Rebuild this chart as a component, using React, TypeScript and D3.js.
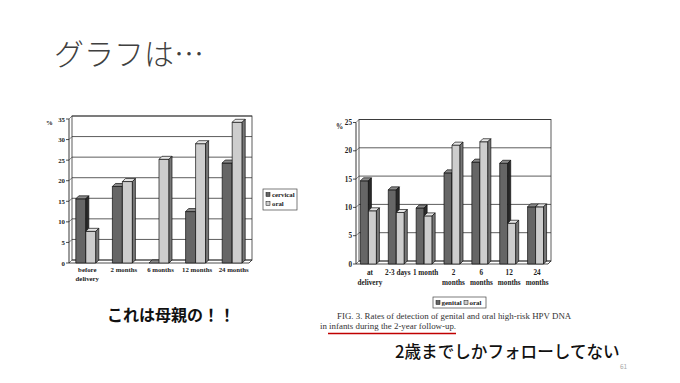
import React from "react";
import * as d3 from "d3";

const leftCategories = [["before", "delivery"], ["2 months"], ["6 months"], ["12 months"], ["24 months"]];
const leftSeries = ["cervical", "oral"];
const leftCervical = [15.6, 18.6, 0, 12.5, 24.3];
const leftOral = [7.7, 19.8, 25.2, 29, 34.2];
const leftTicks = [0, 5, 10, 15, 20, 25, 30, 35];

const rightCategories = [["at", "delivery"], ["2-3 days"], ["1 month"], ["2", "months"], ["6", "months"], ["12", "months"], ["24", "months"]];
const rightSeries = ["genital", "oral"];
const rightGenital = [14.7, 13.1, 9.9, 16.1, 18.0, 17.8, 10.1];
const rightOral = [9.4, 9.1, 8.5, 21.0, 21.6, 7.2, 10.1];
const rightTicks = [0, 5, 10, 15, 20, 25];

const DARK = { front: "#666666", top: "#8a8a8a", side: "#2a2a2a" };
const LIGHT = { front: "#cdcdcd", top: "#e6e6e6", side: "#777777" };

type ChartProps = {
  x0: number; x1: number; y0: number; yTop: number; max: number;
  cats: string[][]; a: number[]; b: number[]; ticks: number[];
  bw: number; d: number; fs: number; labelY: number; lineH: number; pctDx: number;
};

function Bar3D({ x, w, yv, y0, d, c }: { x: number; w: number; yv: number; y0: number; d: number; c: any }) {
  const h = y0 - yv;
  return (
    <g stroke="#111" strokeWidth={0.7} strokeLinejoin="round">
      {h > 0.5 && <rect x={x} y={yv} width={w} height={h} fill={c.front} />}
      <path d={`M${x},${yv} L${x + d},${yv - d} L${x + w + d},${yv - d} L${x + w},${yv} Z`} fill={c.top} />
      <path d={`M${x + w},${yv} L${x + w + d},${yv - d} L${x + w + d},${y0 - d} L${x + w},${y0} Z`} fill={c.side} />
    </g>
  );
}

function Chart3D(p: ChartProps) {
  const y = d3.scaleLinear().domain([0, p.max]).range([p.y0, p.yTop]);
  const xb = d3.scaleBand<number>().domain(d3.range(p.cats.length)).range([p.x0, p.x1]);
  const gw = 2 * p.bw + p.d;
  const font = "'Liberation Serif', 'DejaVu Serif', serif";
  return (
    <g>
      <rect x={p.x0 + p.d} y={y(p.max) - p.d} width={p.x1 - p.x0 - p.d} height={p.y0 - y(p.max)} fill="#fff" stroke="#333" strokeWidth={0.8} />
      {p.ticks.map((t) => (
        <g key={t}>
          <line x1={p.x0 + p.d} x2={p.x1} y1={y(t) - p.d} y2={y(t) - p.d} stroke="#333" strokeWidth={0.8} />
          <line x1={p.x0} x2={p.x0 + p.d} y1={y(t)} y2={y(t) - p.d} stroke="#333" strokeWidth={0.6} />
          <line x1={p.x0 - 3} x2={p.x0} y1={y(t)} y2={y(t)} stroke="#222" strokeWidth={0.8} />
          <text x={p.x0 - 4} y={y(t) + 2.5} textAnchor="end" fontSize={p.fs} fontFamily={font} fontWeight="bold" fill="#222">{t}</text>
        </g>
      ))}
      <path d={`M${p.x0},${p.y0} L${p.x1 - p.d},${p.y0} L${p.x1},${p.y0 - p.d}`} fill="none" stroke="#222" strokeWidth={0.8} />
      <line x1={p.x0} x2={p.x0} y1={p.y0} y2={y(p.max)} stroke="#222" strokeWidth={0.9} />
      <text x={p.x0 - p.pctDx} y={y(p.max) + 6} fontSize={p.fs} fontFamily={font} fontWeight="bold" fill="#222">%</text>
      {p.cats.map((lines, i) => {
        const cx = (xb(i) as number) + xb.bandwidth() / 2;
        const gx = cx - gw / 2;
        return (
          <g key={i}>
            <Bar3D x={gx} w={p.bw} yv={y(p.a[i])} y0={p.y0} d={p.d} c={DARK} />
            <Bar3D x={gx + p.bw} w={p.bw} yv={y(p.b[i])} y0={p.y0} d={p.d} c={LIGHT} />
            {lines.map((l, j) => (
              <text key={j} x={cx} y={p.labelY + j * p.lineH} textAnchor="middle" fontSize={p.fs} fontFamily={font} fontWeight="bold" fill="#222">{l}</text>
            ))}
          </g>
        );
      })}
    </g>
  );
}

export default function App() {
  const serif = "'Liberation Serif', 'DejaVu Serif', serif";
  const jp = "'Noto Sans CJK JP', 'Noto Sans', sans-serif";
  return (
    <svg width={680} height={383} style={{ position: "absolute", left: 0, top: 0 }} xmlns="http://www.w3.org/2000/svg">
      <rect width={680} height={383} fill="#fff" />
      <text x={54} y={65} fontSize={30} fontFamily={jp} fontWeight={300} fill="#404040">グラフは…</text>

      <Chart3D x0={69} x1={252} y0={263} yTop={119} max={35} cats={leftCategories} a={leftCervical} b={leftOral}
        ticks={leftTicks} bw={10} d={3} fs={6.8} labelY={272} lineH={9} pctDx={23} />
      <g fontFamily={serif} fontSize={6.8} fontWeight="bold" fill="#222">
        <rect x={263} y={189} width={34} height={21} fill="#fff" stroke="#444" strokeWidth={0.7} />
        <rect x={266} y={192.5} width={4} height={4} fill={DARK.front} stroke="#111" strokeWidth={0.5} />
        <text x={272} y={197}>{leftSeries[0]}</text>
        <rect x={266} y={201.5} width={4} height={4} fill={LIGHT.front} stroke="#111" strokeWidth={0.5} />
        <text x={272} y={206}>{leftSeries[1]}</text>
      </g>

      <Chart3D x0={356} x1={551} y0={264} yTop={122.5} max={25} cats={rightCategories} a={rightGenital} b={rightOral}
        ticks={rightTicks} bw={8} d={3} fs={7.2} labelY={275} lineH={10} pctDx={20} />
      <g fontFamily={serif} fontSize={7} fontWeight="bold" fill="#222">
        <rect x={433} y={297} width={53} height={11} fill="#fff" stroke="#444" strokeWidth={0.7} />
        <rect x={436} y={300.5} width={4} height={4} fill={DARK.front} stroke="#111" strokeWidth={0.5} />
        <text x={441.5} y={305}>{rightSeries[0]}</text>
        <rect x={464} y={300.5} width={4} height={4} fill={LIGHT.front} stroke="#111" strokeWidth={0.5} />
        <text x={469.5} y={305}>{rightSeries[1]}</text>
      </g>
      <g fontFamily={serif} fontSize={8.9} fill="#333">
        <text x={337} y={319}>FIG. 3.  Rates of detection of genital and oral high-risk HPV DNA</text>
        <text x={320} y={329}>in infants during the 2-year follow-up.</text>
      </g>
      <line x1={328} x2={456} y1={333.5} y2={333.5} stroke="#c00000" strokeWidth={1.5} />

      <text x={107} y={321} fontSize={16} fontFamily={jp} fontWeight="bold" fill="#111">これは母親の！！</text>
      <text x={395} y={358} fontSize={16.6} fontFamily={jp} fontWeight={500} fill="#111">2歳までしかフォローしてない</text>
      <text x={620} y={369} fontSize={6.5} fontFamily={jp} fill="#aaa">61</text>
    </svg>
  );
}
